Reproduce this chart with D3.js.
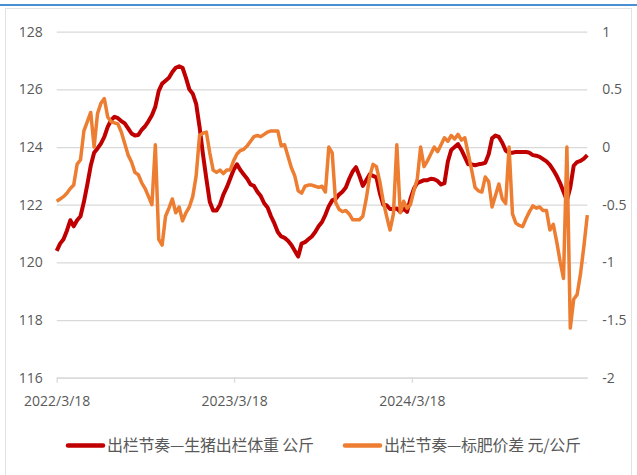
<!DOCTYPE html>
<html>
<head>
<meta charset="utf-8">
<script src="https://d3js.org/d3.v7.min.js"></script>
<style>
  body { margin: 0; background: #fff; }
  .tick-label { font-family: "Open Sans", "Noto Sans", sans-serif; font-size: 14px; fill: #595959; }
  .legend-label { font-family: "Noto Sans CJK SC", sans-serif; font-size: 16px; fill: #595959; }
</style>
</head>
<body>
<svg id="chart" width="637" height="475"></svg>
<script>
// weekly observation dates
const weeks = [
  '2022-03-18','2022-03-25','2022-04-01','2022-04-08','2022-04-15','2022-04-22','2022-04-29','2022-05-06','2022-05-13','2022-05-20',
  '2022-05-27','2022-06-03','2022-06-10','2022-06-17','2022-06-24','2022-07-01','2022-07-08','2022-07-15','2022-07-22','2022-07-29',
  '2022-08-05','2022-08-12','2022-08-19','2022-08-26','2022-09-02','2022-09-09','2022-09-16','2022-09-23','2022-09-30','2022-10-07',
  '2022-10-14','2022-10-21','2022-10-28','2022-11-04','2022-11-11','2022-11-18','2022-11-25','2022-12-02','2022-12-09','2022-12-16',
  '2022-12-23','2022-12-30','2023-01-06','2023-01-13','2023-01-20','2023-01-27','2023-02-03','2023-02-10','2023-02-17','2023-02-24',
  '2023-03-03','2023-03-10','2023-03-17','2023-03-24','2023-03-31','2023-04-07','2023-04-14','2023-04-21','2023-04-28','2023-05-05',
  '2023-05-12','2023-05-19','2023-05-26','2023-06-02','2023-06-09','2023-06-16','2023-06-23','2023-06-30','2023-07-07','2023-07-14',
  '2023-07-21','2023-07-28','2023-08-04','2023-08-11','2023-08-18','2023-08-25','2023-09-01','2023-09-08','2023-09-15','2023-09-22',
  '2023-09-29','2023-10-06','2023-10-13','2023-10-20','2023-10-27','2023-11-03','2023-11-10','2023-11-17','2023-11-24','2023-12-01',
  '2023-12-08','2023-12-15','2023-12-22','2023-12-29','2024-01-05','2024-01-12','2024-01-19','2024-01-26','2024-02-02','2024-02-09',
  '2024-02-16','2024-02-23','2024-03-01','2024-03-08','2024-03-15','2024-03-22','2024-03-29','2024-04-05','2024-04-12','2024-04-19',
  '2024-04-26','2024-05-03','2024-05-10','2024-05-17','2024-05-24','2024-05-31','2024-06-07','2024-06-14','2024-06-21','2024-06-28',
  '2024-07-05','2024-07-12','2024-07-19','2024-07-26','2024-08-02','2024-08-09','2024-08-16','2024-08-23','2024-08-30','2024-09-06',
  '2024-09-13','2024-09-20','2024-09-27','2024-10-04','2024-10-11','2024-10-18','2024-10-25','2024-11-01','2024-11-08','2024-11-15',
  '2024-11-22','2024-11-29','2024-12-06','2024-12-13','2024-12-20','2024-12-27','2025-01-03','2025-01-10','2025-01-17','2025-01-24',
  '2025-01-31','2025-02-07','2025-02-14','2025-02-21','2025-02-28','2025-03-07','2025-03-14'
];

// 生猪出栏体重, kg (left axis)
const weightKg = [
  120.4, 120.65, 120.8, 121.1, 121.46, 121.25, 121.46, 121.6, 122.1, 122.7,
  123.35, 123.8, 123.95, 124.12, 124.35, 124.7, 124.93, 125.05, 125.0, 124.9,
  124.82, 124.65, 124.47, 124.4, 124.42, 124.6, 124.72, 124.9, 125.1, 125.4,
  125.95, 126.2, 126.3, 126.4, 126.6, 126.75, 126.8, 126.75, 126.4, 126.0,
  125.85, 125.5, 124.7, 123.75, 122.9, 122.1, 121.8, 121.8, 122.0, 122.35,
  122.6, 122.9, 123.2, 123.4, 123.2, 123.05, 122.9, 122.7, 122.65, 122.45,
  122.3, 122.05, 121.9, 121.6, 121.35, 121.05, 120.9, 120.85, 120.75, 120.6,
  120.4, 120.2, 120.65, 120.7, 120.8, 120.9, 121.05, 121.25, 121.4, 121.65,
  121.95, 122.15, 122.2, 122.35, 122.45, 122.6, 122.9, 123.15, 123.3, 123.0,
  122.65, 122.85, 123.05, 123.0, 122.95, 122.4, 122.0, 121.98, 121.85, 121.85,
  121.87, 121.75, 121.87, 121.75, 122.2, 122.55, 122.75, 122.8, 122.85, 122.85,
  122.9, 122.88, 122.82, 122.7, 122.75, 123.5, 123.9, 124.0, 124.1, 123.9,
  123.65, 123.4, 123.4, 123.37, 123.4, 123.42, 123.45, 123.75, 124.3, 124.4,
  124.35, 124.15, 123.88, 123.8, 123.8, 123.83, 123.83, 123.83, 123.83, 123.8,
  123.72, 123.7, 123.66, 123.58, 123.5, 123.38, 123.2, 123.0, 122.75, 122.45,
  122.15, 122.6, 123.35, 123.48, 123.52, 123.6, 123.72
];

// 标肥价差, yuan/kg (right axis)
const spreadYuan = [
  -0.47, -0.45, -0.43, -0.40, -0.36, -0.33, -0.15, -0.11, 0.14, 0.22,
  0.30, 0.0, 0.29, 0.38, 0.42, 0.26, 0.22, 0.21, 0.2, 0.13,
  0.03, -0.07, -0.13, -0.22, -0.24, -0.31, -0.36, -0.43, -0.5, 0.02,
  -0.8, -0.85, -0.6, -0.53, -0.45, -0.57, -0.52, -0.64, -0.57, -0.52,
  -0.43, -0.25, 0.10, 0.12, 0.13, -0.05, -0.2, -0.22, -0.2, -0.23,
  -0.2, -0.2, -0.12, -0.06, -0.03, -0.02, 0.01, 0.05, 0.09, 0.1,
  0.09, 0.11, 0.13, 0.14, 0.14, 0.14, 0.01, 0.02, -0.08, -0.18,
  -0.25, -0.38, -0.4, -0.34, -0.33, -0.33, -0.34, -0.35, -0.34, -0.39,
  0.0, -0.05, -0.48, -0.54, -0.56, -0.55, -0.58, -0.63, -0.63, -0.63,
  -0.6, -0.45, -0.26, -0.15, -0.17, -0.3, -0.47, -0.6, -0.72, -0.58,
  0.02, -0.57, -0.47, -0.53, -0.5, -0.38, -0.28, 0.0, -0.17, -0.12,
  -0.06, 0.0, -0.04, 0.02, 0.08, 0.05, 0.1, 0.07, 0.11, 0.06,
  0.08, -0.06, -0.2, -0.35, -0.38, -0.39, -0.26, -0.3, -0.52, -0.42,
  -0.32, -0.45, -0.49, 0.0, -0.58, -0.66, -0.68, -0.69, -0.62, -0.56,
  -0.51, -0.53, -0.52, -0.55, -0.55, -0.72, -0.67, -0.82, -0.99, -1.14,
  0.0, -1.57, -1.32, -1.28, -1.1, -0.86, -0.59
];

const leftTicks = [116, 118, 120, 122, 124, 126, 128];
const rightTicks = [-2, -1.5, -1, -0.5, 0, 0.5, 1];
const dateTicks = ['2022-03-18', '2023-03-18', '2024-03-18'];
const seriesNames = ['出栏节奏—生猪出栏体重 公斤', '出栏节奏—标肥价差 元/公斤'];
const seriesColors = ['#C00000', '#ED7D31'];

const parseDate = d3.timeParse('%Y-%m-%d');
const plot = { left: 56.7, right: 587.3, top: 31.7, bottom: 377.7 };

const svg = d3.select('#chart');

// outer frame and blue top rule
svg.append('rect')
  .attr('x', 5.5).attr('y', 8.5)
  .attr('width', 626).attr('height', 480)
  .attr('fill', 'none')
  .attr('stroke', '#e2e2e2');
svg.append('line')
  .attr('x1', 0).attr('x2', 637)
  .attr('y1', 5).attr('y2', 5)
  .attr('stroke', '#4a8fd6')
  .attr('stroke-width', 2);

let x = d3.scaleTime()
  .domain([parseDate(weeks[0]), parseDate(weeks[weeks.length - 1])])
  .range([plot.left, plot.right]);

let yLeft = d3.scaleLinear().domain([116, 128]).range([plot.bottom, plot.top]);
let yRight = d3.scaleLinear().domain([-2, 1]).range([plot.bottom, plot.top]);

// left axis with gridlines
let leftAxis = svg.append('g')
  .attr('transform', `translate(${plot.left}, 0)`)
  .call(d3.axisLeft(yLeft)
    .tickValues(leftTicks)
    .tickSize(-(plot.right - plot.left))
    .tickPadding(14)
    .tickFormat(d => String(d)));
leftAxis.select('.domain').remove();
leftAxis.selectAll('line').attr('stroke', '#d9d9d9').attr('stroke-width', 1.3);
leftAxis.selectAll('text').attr('class', 'tick-label').attr('fill', null);

// right axis, labels only
let rightAxis = svg.append('g')
  .attr('transform', `translate(${plot.right}, 0)`)
  .call(d3.axisRight(yRight)
    .tickValues(rightTicks)
    .tickSize(0)
    .tickPadding(15)
    .tickFormat(d => String(d)));
rightAxis.select('.domain').remove();
rightAxis.selectAll('text').attr('class', 'tick-label').attr('fill', null);

// bottom date axis
let bottomAxis = svg.append('g')
  .attr('transform', `translate(0, ${plot.bottom})`)
  .call(d3.axisBottom(x)
    .tickValues(dateTicks.map(parseDate))
    .tickSize(5)
    .tickSizeOuter(0)
    .tickPadding(13)
    .tickFormat(d3.timeFormat('%Y/%-m/%-d')));
bottomAxis.select('.domain').attr('stroke', '#d9d9d9').attr('stroke-width', 1.3);
bottomAxis.selectAll('line').attr('stroke', '#d9d9d9').attr('stroke-width', 1.3);
bottomAxis.selectAll('text').attr('class', 'tick-label').attr('fill', null);

// series lines
let weightLine = d3.line()
  .x((d, i) => x(parseDate(weeks[i])))
  .y(d => yLeft(d));
let spreadLine = d3.line()
  .x((d, i) => x(parseDate(weeks[i])))
  .y(d => yRight(d));

svg.append('path')
  .datum(weightKg)
  .attr('d', weightLine)
  .attr('fill', 'none')
  .attr('stroke', seriesColors[0])
  .attr('stroke-width', 4)
  .attr('stroke-linejoin', 'round');

svg.append('path')
  .datum(spreadYuan)
  .attr('d', spreadLine)
  .attr('fill', 'none')
  .attr('stroke', seriesColors[1])
  .attr('stroke-width', 3.5)
  .attr('stroke-linejoin', 'round');

// legend
let legendX = [68, 345];
let legendWidth = [207, 197];
let legend = svg.selectAll('.legend')
  .data(seriesNames)
  .enter().append('g')
  .attr('class', 'legend')
  .attr('transform', (d, i) => `translate(${legendX[i]}, 445.5)`);

legend.append('line')
  .attr('x1', 0).attr('x2', 35)
  .attr('y1', 0).attr('y2', 0)
  .attr('stroke', (d, i) => seriesColors[i])
  .attr('stroke-width', 4.5)
  .attr('stroke-linecap', 'round');

legend.append('text')
  .attr('class', 'legend-label')
  .attr('x', 39)
  .attr('y', 0)
  .attr('dy', '0.36em')
  .attr('textLength', (d, i) => legendWidth[i])
  .attr('lengthAdjust', 'spacing')
  .text(d => d);
</script>
</body>
</html>
